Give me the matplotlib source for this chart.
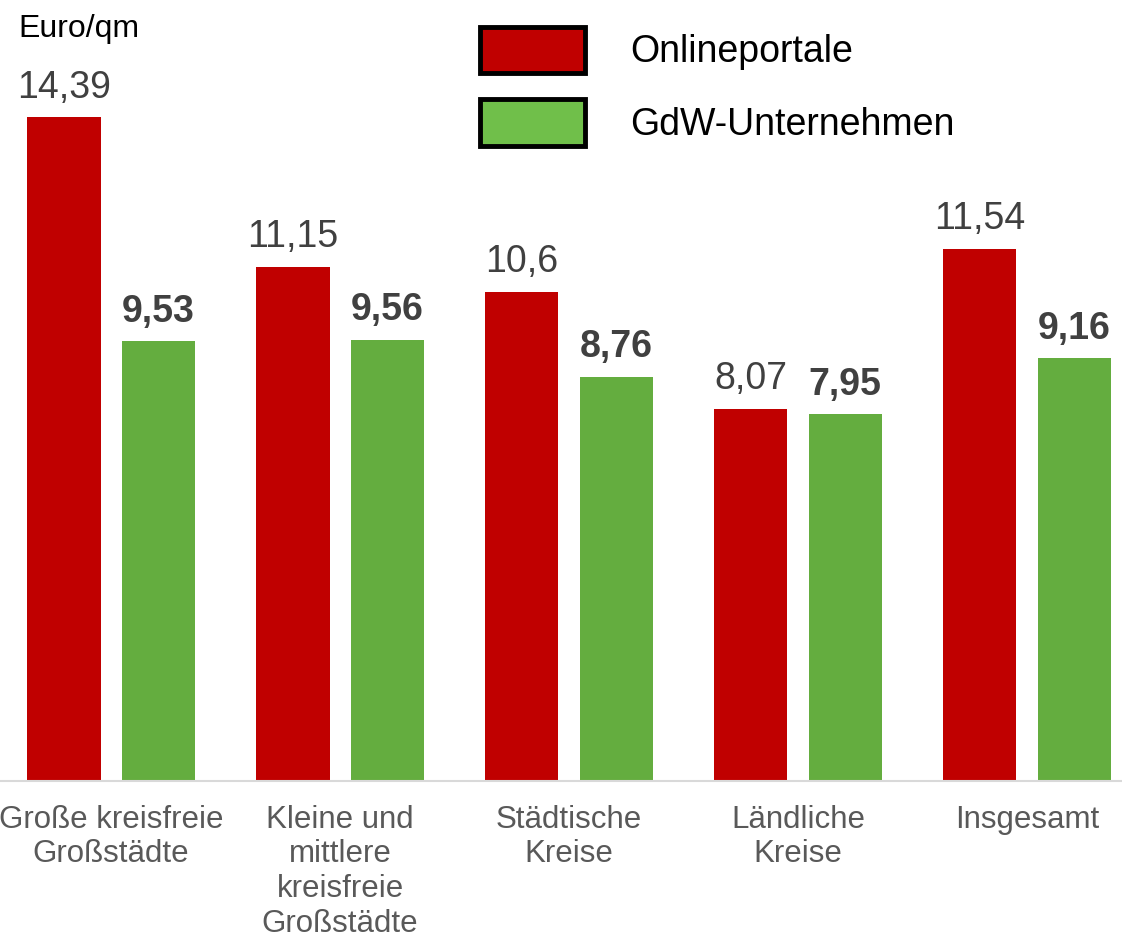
import matplotlib.pyplot as plt
from matplotlib.patches import Patch
import numpy as np

plt.rcParams["font.family"] = ["Liberation Sans", "DejaVu Sans"]

# Angebotsmieten nach Kreistyp
kategorien = ["Große kreisfreie\nGroßstädte", "Kleine und\nmittlere\nkreisfreie\nGroßstädte",
              "Städtische\nKreise", "Ländliche\nKreise", "Insgesamt"]
onlineportale = [14.39, 11.15, 10.6, 8.07, 11.54]
gdw = [9.53, 9.56, 8.76, 7.95, 9.16]
labels_online = ["14,39", "11,15", "10,6", "8,07", "11,54"]
labels_gdw = ["9,53", "9,56", "8,76", "7,95", "9,16"]

rot = "#C00000"
gruen = "#64AD3F"
gruen_legende = "#70BF4A"

fig = plt.figure(figsize=(11.22, 9.43), dpi=100)
ax = fig.add_axes([0, 162 / 943, 1, 738.2 / 943])

x = np.arange(len(kategorien))
breite = 0.32
versatz = 0.206
b1 = ax.bar(x - versatz, onlineportale, breite, color=rot)
b2 = ax.bar(x + versatz, gdw, breite, color=gruen)

for rect, txt in zip(b1, labels_online):
    ax.annotate(txt, (rect.get_x() + rect.get_width() / 2, rect.get_height()),
                xytext=(0, 14), textcoords="offset points", ha="center", va="baseline",
                fontsize=27, color="#404040")
for rect, txt in zip(b2, labels_gdw):
    ax.annotate(txt, (rect.get_x() + rect.get_width() / 2, rect.get_height()),
                xytext=(0, 14), textcoords="offset points", ha="center", va="baseline",
                fontsize=27, color="#404040", fontweight="bold")

ax.set_xlim(-0.485, 4.415)
ax.set_ylim(0, 16)
ax.set_xticks(x)
ax.set_xticklabels(kategorien, fontsize=22.5, color="#595959", linespacing=1.21)
ax.tick_params(axis="x", length=0, pad=17)
ax.set_yticks([])
for s in ["top", "right", "left"]:
    ax.spines[s].set_visible(False)
ax.spines["bottom"].set_color("#D9D9D9")
ax.spines["bottom"].set_linewidth(1.5)

fig.text(18 / 1122, 1 - 37 / 943, "Euro/qm", fontsize=23, color="black", va="baseline")

handles = [Patch(facecolor=rot, edgecolor="black", linewidth=3.5, label="Onlineportale"),
           Patch(facecolor=gruen_legende, edgecolor="black", linewidth=3.5, label="GdW-Unternehmen")]
ax.legend(handles=handles, loc="upper left", bbox_to_anchor=(480 / 1122, 1 - 27 / 943),
          bbox_transform=fig.transFigure, frameon=False, fontsize=27,
          handlelength=2.8, handleheight=1.52, handletextpad=1.2, labelspacing=0.7,
          borderaxespad=0, borderpad=0)

fig.savefig("out.png", dpi=100)
